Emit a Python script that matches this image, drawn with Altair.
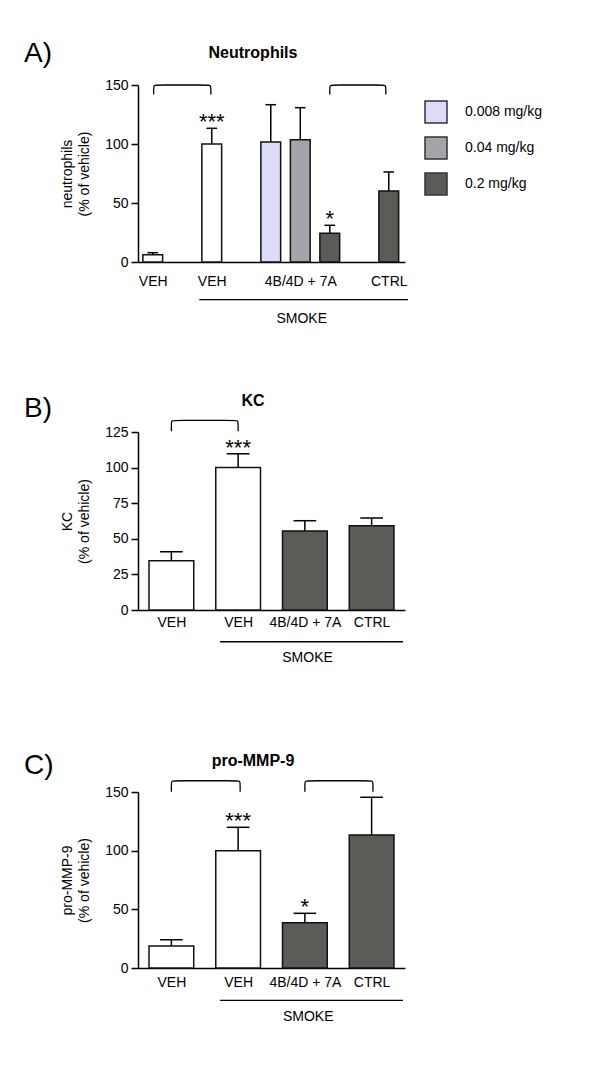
import altair as alt
import pandas as pd

FONT = "Liberation Sans"
DARK = "#5a5c57"

# ---------------- data ----------------
DOSES = ["0.008 mg/kg", "0.04 mg/kg", "0.2 mg/kg"]
DOSE_COLORS = ["#dcdcfa", "#a4a4aa", DARK]

# Panel A  (Neutrophils)
a_pos = [0, 2, 4, 5, 6, 8]
a_kind = ["veh", "veh", "dose", "dose", "dose", "ctrl"]
a_dose = ["", "", "0.008 mg/kg", "0.04 mg/kg", "0.2 mg/kg", ""]
a_mean = [6.2, 100.0, 101.7, 103.7, 24.3, 60.2]
a_err = [1.7, 13.3, 31.6, 27.1, 6.8, 16.1]
a_star = ["", "***", "", "", "*", ""]
a_tick_pos = [0, 2, 5, 8]
a_tick_text = ["VEH", "VEH", "4B/4D + 7A", "CTRL"]

# Panel B  (KC)
b_pos = [0, 1, 2, 3]
b_kind = ["veh", "veh", "dose", "ctrl"]
b_mean = [34.5, 100.0, 55.5, 59.2]
b_err = [6.4, 9.7, 7.2, 5.4]
b_star = ["", "***", "", ""]

# Panel C  (pro-MMP-9)
c_pos = [0, 1, 2, 3]
c_kind = ["veh", "veh", "dose", "ctrl"]
c_mean = [18.8, 100.0, 38.6, 113.4]
c_err = [5.3, 19.9, 8.0, 32.1]
c_star = ["", "***", "*", ""]

bc_tick_pos = [0, 1, 2, 3]
bc_tick_text = ["VEH", "VEH", "4B/4D + 7A", "CTRL"]

# significance brackets
a_br_from, a_br_to, a_br_low, a_br_high = [0.03, 6.0], [1.97, 7.9], [142.0, 142.0], [150.0, 150.0]
b_br_from, b_br_to, b_br_low, b_br_high = [0.0], [1.0], [125.5], [133.2]
c_br_from, c_br_to, c_br_low, c_br_high = [0.0, 2.0], [1.03, 3.02], [150.2, 150.2], [159.6, 159.6]

# SMOKE grouping line (from, to, y) and label (x, y)
a_smoke = [1.58, 8.65, -31.9, 5.05, -48.3]
b_smoke = [0.73, 3.47, -22.3, 2.04, -33.8]
c_smoke = [0.73, 3.47, -27.6, 2.05, -41.5]

LETTERS = ["A)", "B)", "C)"]
TITLES = ["Neutrophils", "KC", "pro-MMP-9"]
YTITLES = [["neutrophils", "(% of vehicle)"], ["KC", "(% of vehicle)"],
           ["pro-MMP-9", "(% of vehicle)"]]


def bracket_df(f, t, lo, hi, h, v):
    rows = []
    for k, (a, b, l, u) in enumerate(zip(f, t, lo, hi)):
        pts = [(a, l), (a, u - v), (a, u), (a + h, u), (b - h, u), (b, u), (b, u - v), (b, l)]
        for i, (x, y) in enumerate(pts):
            rows.append({"id": k, "i": i, "x": x, "y": y})
    return pd.DataFrame(rows)


def label_expr(pos, text):
    return " : ".join(f"datum.value == {p} ? '{t}'" for p, t in zip(pos, text)) + " : ''"


def panel(idx, pos, kind, mean, err, star, dose, xdom, ydom, yticks, tick_pos, tick_text,
          lab_pad, br, smoke, height, yrange, xoffset, half, cap, corner, letter_y, legend):
    df = pd.DataFrame({"pos": pos, "kind": kind, "mean": mean, "err": err,
                       "star": star, "dose": dose})
    xs = alt.Scale(domain=xdom, nice=False, zero=False)
    ys = alt.Scale(domain=ydom, nice=False, zero=False) if yrange is None else \
        alt.Scale(domain=ydom, nice=False, zero=False, range=yrange)
    xax = alt.Axis(values=tick_pos, labelExpr=label_expr(tick_pos, tick_text), ticks=False,
                   domainWidth=1.5, domainColor="black", labelFontSize=14, labelPadding=lab_pad,
                   labelAngle=0, labelFlush=False, labelOverlap=False, grid=False,
                   offset=xoffset, title=None, labelColor="black", labelFont=FONT)
    yax = alt.Axis(values=yticks, tickSize=7, tickWidth=1.5, domainWidth=1.5,
                   domainColor="black", tickColor="black", labelFontSize=14, labelPadding=3,
                   labelColor="black", labelFont=FONT, grid=False, title=YTITLES[idx],
                   titleFontSize=14, titleFontWeight="normal", titleFont=FONT,
                   titleColor="black", titlePadding=13, titleLineHeight=17)

    def X(f):
        return alt.X(f, type="quantitative", scale=xs, axis=xax)

    def Y(f):
        return alt.Y(f, type="quantitative", scale=ys, axis=yax)

    base = alt.Chart(df).transform_calculate(
        top="datum.mean + datum.err",
        x0=f"datum.pos - {half}", x1=f"datum.pos + {half}",
        c0=f"datum.pos - {cap}", c1=f"datum.pos + {cap}", zero="0")

    bar_kw = dict(stroke="#111111", strokeWidth=1.5)
    layers = [
        base.transform_filter("datum.kind == 'veh'").mark_bar(fill="white", **bar_kw)
        .encode(x=X("x0"), x2="x1:Q", y=Y("mean"), y2="zero:Q"),
        base.transform_filter("datum.kind == 'ctrl'").mark_bar(fill=DARK, **bar_kw)
        .encode(x=X("x0"), x2="x1:Q", y=Y("mean"), y2="zero:Q"),
    ]
    if legend:
        layers.append(
            base.transform_filter("datum.kind == 'dose'").mark_bar(**bar_kw).encode(
                x=X("x0"), x2="x1:Q", y=Y("mean"), y2="zero:Q",
                fill=alt.Fill("dose:N", scale=alt.Scale(domain=DOSES, range=DOSE_COLORS),
                              legend=alt.Legend(orient="none", legendX=286, legendY=15,
                                                title=None, symbolType="square",
                                                symbolSize=484, symbolStrokeColor="#333333",
                                                symbolStrokeWidth=1.5, labelFontSize=14,
                                                labelFont=FONT, labelColor="black",
                                                labelOffset=17, rowPadding=8, padding=0))))
    else:
        layers.append(
            base.transform_filter("datum.kind == 'dose'").mark_bar(fill=DARK, **bar_kw)
            .encode(x=X("x0"), x2="x1:Q", y=Y("mean"), y2="zero:Q"))
    layers += [
        base.mark_rule(color="black", strokeWidth=1.5).encode(x=X("pos"), y=Y("mean"), y2="top:Q"),
        base.mark_rule(color="black", strokeWidth=1.5).encode(x=X("c0"), x2="c1:Q", y=Y("top")),
        base.mark_text(font=FONT, fontSize=22, baseline="alphabetic", dy=1, color="black")
        .encode(x=X("pos"), y=Y("top"), text="star:N"),
    ]
    bdf = bracket_df(*br, *corner)
    layers.append(alt.Chart(bdf).mark_line(interpolate="basis", color="black", strokeWidth=1.3)
                  .encode(x=X("x"), y=Y("y"), detail="id:N", order="i:Q"))
    sdf = pd.DataFrame({"f": [smoke[0]], "t": [smoke[1]], "y": [smoke[2]],
                        "tx": [smoke[3]], "ty": [smoke[4]], "label": ["SMOKE"]})
    layers.append(alt.Chart(sdf).mark_rule(color="black", strokeWidth=1.3)
                  .encode(x=X("f"), x2="t:Q", y=Y("y")))
    layers.append(alt.Chart(sdf).mark_text(font=FONT, fontSize=14, baseline="middle",
                                           color="black")
                  .encode(x=X("tx"), y=Y("ty"), text="label:N"))
    tdf = pd.DataFrame({"letter": [LETTERS[idx]], "title": [TITLES[idx]]})
    layers.append(alt.Chart(tdf).mark_text(font=FONT, fontSize=28, align="left",
                                           baseline="middle", color="black")
                  .encode(text="letter:N", x=alt.value(-114), y=alt.value(letter_y[0])))
    layers.append(alt.Chart(tdf).mark_text(font=FONT, fontSize=16, fontWeight="bold",
                                           align="center", baseline="middle", color="black")
                  .encode(text="title:N", x=alt.value(115), y=alt.value(letter_y[1])))
    return alt.layer(*layers).properties(width=267, height=height)


pA = panel(0, a_pos, a_kind, a_mean, a_err, a_star, a_dose, [-0.5, 8.55], [0, 150],
           [0, 50, 100, 150], a_tick_pos, a_tick_text, 12,
           (a_br_from, a_br_to, a_br_low, a_br_high), a_smoke, 177, None, 0,
           0.335, 0.18, (0.14, 3.4), (-31, -32), True)
pB = panel(1, b_pos, b_kind, b_mean, b_err, b_star, [""] * 4, [-0.5, 3.5], [0, 125],
           [0, 25, 50, 75, 100, 125], bc_tick_pos, bc_tick_text, 5,
           (b_br_from, b_br_to, b_br_low, b_br_high), b_smoke, 190, [178, 0], -12,
           0.335, 0.17, (0.06, 2.8), (-23, -31), False)
pC = panel(2, c_pos, c_kind, c_mean, c_err, c_star, [""] * 4, [-0.5, 3.5], [0, 150],
           [0, 50, 100, 150], bc_tick_pos, bc_tick_text, 7,
           (c_br_from, c_br_to, c_br_low, c_br_high), c_smoke, 176, None, 0,
           0.335, 0.17, (0.06, 3.4), (-26, -31), False)

chart = alt.vconcat(pA, pB, pC, spacing=170, bounds="flush").resolve_scale(
    fill="independent").resolve_legend(fill="independent").properties(
    padding={"left": 16, "top": 32, "right": 5, "bottom": 5}
).configure(font=FONT, background="white").configure_view(strokeWidth=0, stroke="transparent")

chart.save("out.html", embed_options={"renderer": "svg", "actions": False})
